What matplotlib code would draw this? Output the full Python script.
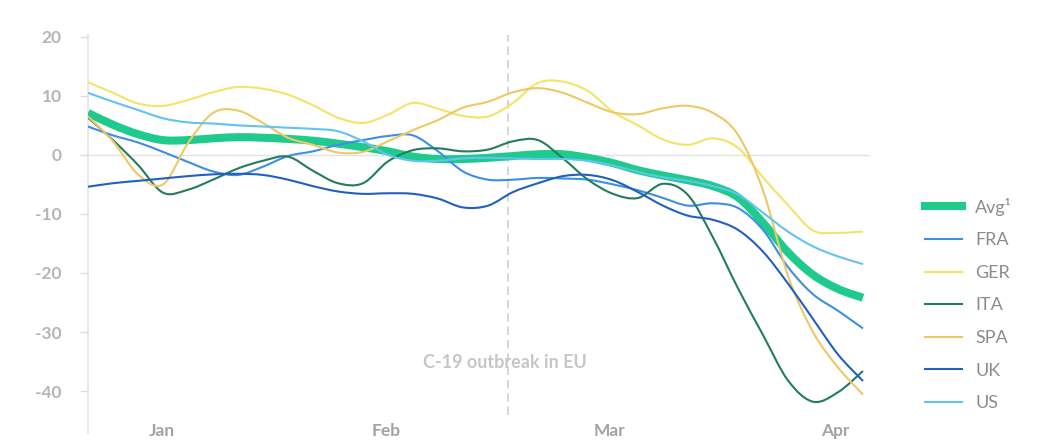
import numpy as np
import matplotlib.pyplot as plt
from matplotlib.path import Path
from matplotlib.patches import PathPatch
from matplotlib.lines import Line2D
from matplotlib.transforms import blended_transform_factory

plt.rcParams["font.family"] = ["Lato", "DejaVu Sans"]

# weekly-ish sample index along the time axis
samples = np.arange(32)
months = ["Jan", "Feb", "Mar", "Apr"]
month_pos = [2.96, 11.92, 20.88, 29.88]
outbreak_pos = 16.8
y_ticks = [-40, -30, -20, -10, 0, 10, 20]

avg = [7.1, 5.1, 3.5, 2.5, 2.5, 2.8, 3.0, 2.9, 2.7, 2.4, 1.9, 1.3, 0.6, -0.3, -0.7, -0.7,
       -0.5, -0.2, 0.1, 0.1, -0.5, -1.4, -2.6, -3.5, -4.3, -5.3, -7.2, -11.5, -16.5, -20.3, -22.7, -24.2]
fra = [4.8, 3.3, 2.1, 0.5, -1.2, -2.8, -3.4, -2.0, -0.2, 0.6, 1.7, 2.5, 3.2, 3.3, 0.6, -2.8,
       -4.2, -4.2, -3.9, -4.0, -4.2, -5.0, -6.0, -7.3, -8.6, -8.2, -9.0, -12.7, -19.0, -23.6, -26.4, -29.4]
ger = [12.3, 10.5, 8.7, 8.3, 9.3, 10.6, 11.5, 11.2, 10.2, 8.4, 6.3, 5.4, 6.8, 8.8, 7.8, 6.6,
       6.5, 8.8, 12.2, 12.4, 10.8, 7.3, 5.0, 2.6, 1.7, 2.8, 1.2, -3.8, -8.5, -12.8, -13.2, -13.0]
ita = [6.3, 2.5, -1.7, -6.4, -5.9, -4.2, -2.3, -1.0, -0.3, -2.7, -4.8, -4.8, -1.1, 0.8, 1.1, 0.6,
       0.9, 2.3, 2.5, -0.6, -4.2, -6.6, -7.3, -4.9, -6.8, -14.0, -22.6, -30.5, -38.2, -41.8, -40.2, -36.6]
spa = [6.5, 2.3, -3.3, -5.0, 2.0, 7.1, 7.5, 5.4, 2.9, 1.7, 0.4, 0.5, 2.3, 4.2, 5.9, 8.0,
       9.0, 10.6, 11.3, 10.5, 8.8, 7.2, 6.9, 7.9, 8.3, 7.1, 3.4, -6.0, -20.5, -30.0, -36.0, -40.6]
uk = [-5.4, -4.8, -4.4, -4.0, -3.6, -3.3, -3.2, -3.4, -4.2, -5.3, -6.2, -6.6, -6.5, -6.6, -7.4, -8.9,
      -8.6, -6.3, -4.8, -3.6, -3.4, -4.3, -6.3, -8.6, -10.3, -11.0, -12.7, -16.4, -21.8, -27.8, -33.8, -38.3]
us = [10.5, 9.0, 7.6, 6.2, 5.5, 5.3, 5.0, 4.8, 4.6, 4.4, 4.0, 2.3, 0.0, -1.0, -1.0, -0.6,
      -0.5, -0.6, -0.7, -0.7, -1.0, -1.8, -2.9, -3.8, -4.4, -5.3, -6.7, -9.8, -13.0, -15.5, -17.2, -18.5]

series = [
    ("Avg\u00b9", avg, "#1fcb8c", 5.8),
    ("FRA", fra, "#3d8fe3", 1.5),
    ("GER", ger, "#f3e466", 1.5),
    ("ITA", ita, "#217d5e", 1.5),
    ("SPA", spa, "#efc866", 1.5),
    ("UK", uk, "#2160c0", 1.5),
    ("US", us, "#62c3ee", 1.5),
]


def smooth_path(x, y):
    # Catmull-Rom segments expressed as cubic Bezier curves
    pts = np.column_stack([x, y]).astype(float)
    ext = np.vstack([pts[0], pts, pts[-1]])
    verts = [pts[0]]
    codes = [Path.MOVETO]
    for i in range(1, len(ext) - 2):
        p0, p1, p2, p3 = ext[i - 1], ext[i], ext[i + 1], ext[i + 2]
        verts += [p1 + (p2 - p0) / 6, p2 - (p3 - p1) / 6, p2]
        codes += [Path.CURVE4] * 3
    return Path(verts, codes)


fig = plt.figure(figsize=(10.43, 4.42), dpi=100)
ax = fig.add_axes([88 / 1043, 9 / 442, (870 - 88) / 1043, (433 - 35) / 442])

handles = []
for label, values, color, lw in series:
    patch = PathPatch(smooth_path(samples, values), fill=False, edgecolor=color,
                      lw=lw, capstyle="butt", joinstyle="round", zorder=3)
    ax.add_patch(patch)
    handles.append(Line2D([], [], color=color, lw=lw))

ax.set_xlim(0, 31.28)
ax.set_ylim(-47.1, 20.3)

# zero line and outbreak marker
ax.axhline(0, color="#e2e2e2", lw=1, zorder=1)
ax.vlines(outbreak_pos, -44, 20.3, colors="#cfcfcf", lw=1.2,
          linestyles=(0, (5, 3)), zorder=1)
ax.text(16.68, -35.1, "C-19 outbreak in EU", ha="center", va="center",
        color="#c6c6c6", fontsize=13, fontweight="bold")

for side in ["top", "right", "bottom"]:
    ax.spines[side].set_visible(False)
ax.spines["left"].set_color("#e4e4e4")
ax.spines["left"].set_linewidth(1.2)

ax.set_yticks(y_ticks)
ax.set_yticklabels([str(v) for v in y_ticks])
ax.tick_params(axis="y", length=6, width=1, color="#dddddd", pad=13,
               labelsize=12.5, labelcolor="#b5b5b5")
for t in ax.get_yticklabels():
    t.set_fontweight("bold")
ax.set_xticks([])

trans = blended_transform_factory(ax.transData, fig.transFigure)
for pos, name in zip(month_pos, months):
    ax.text(pos, 11 / 442, name, transform=trans, ha="center", va="center",
            fontsize=12.5, fontweight="bold", color="#a3a3a3")

ax.legend(handles, [s[0] for s in series], loc="center left",
          bbox_to_anchor=(925 / 1043, 1 - 304.5 / 442), bbox_transform=fig.transFigure,
          frameon=False, fontsize=13, handlelength=2.05, handletextpad=0.72,
          labelspacing=0.92, borderpad=0, borderaxespad=0, labelcolor="#8c8c8c")

fig.savefig("out.png", dpi=100, facecolor="white")
